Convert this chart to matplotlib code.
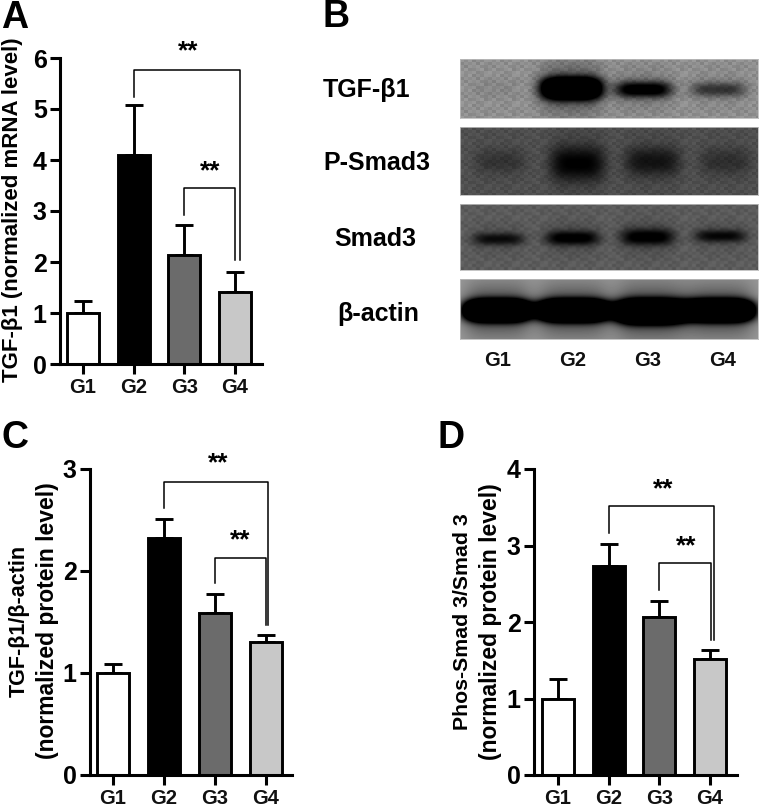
import numpy as np
import matplotlib
matplotlib.use('Agg')
from matplotlib import pyplot as plt

plt.rcParams['font.family'] = ['Liberation Sans', 'DejaVu Sans']

W, H = 761, 807
groups = ['G1', 'G2', 'G3', 'G4']
bar_colours = ['#ffffff', '#000000', '#6b6b6b', '#c8c8c8']

# panel A, C, D values
mrna_means = [1.0, 4.1, 2.13, 1.41]
mrna_errs = [0.24, 0.97, 0.59, 0.40]
tgf_means = [1.0, 2.32, 1.59, 1.30]
tgf_errs = [0.09, 0.19, 0.18, 0.07]
smad_means = [1.0, 2.73, 2.07, 1.51]
smad_errs = [0.25, 0.29, 0.20, 0.12]

# blot bands: lane centre px, half width px, centre y px, half height px, darkness 0-1
tgf_bands = [(495, 24, 88, 9, 0.06), (571, 31, 88, 11, 2.0), (643, 29, 89, 8, 1.0), (718, 28, 89, 7, 0.55)]
psmad_bands = [(500, 26, 161, 12, 0.3), (577, 28, 163, 17, 0.85), (652, 28, 161, 14, 0.65), (725, 26, 161, 13, 0.35)]
smad3_bands = [(498, 26, 239, 6, 0.75), (572, 27, 238, 7, 0.95), (647, 27, 237, 8, 0.95), (720, 26, 236, 6, 0.8)]
actin_bands = [(497, 33, 310, 10, 3.0), (573, 36, 310, 10, 3.0), (650, 35, 311, 11, 3.0), (718, 35, 310, 10, 3.0)]

# mottled film grain, typed by hand and tiled over each strip
grain_a = [[0.6, -0.3, 0.9, -0.8, 0.2, -0.5, 0.7],
           [-0.7, 0.4, -0.2, 0.5, -0.9, 0.8, -0.1],
           [0.3, -0.9, 0.6, 0.1, 0.7, -0.4, -0.6],
           [-0.2, 0.8, -0.6, -0.4, 0.3, 0.9, -0.8],
           [0.9, -0.1, 0.2, 0.7, -0.7, -0.3, 0.4]]
grain_amounts = [0.05, 0.035, 0.04, 0.0]


def px_axes(fig, left, right, top, bottom):
    return fig.add_axes([left / W, 1 - bottom / H, (right - left) / W, (bottom - top) / H])


def px_text(fig, x, y, s, **kw):
    kw.setdefault('ha', 'center')
    kw.setdefault('va', 'center')
    kw.setdefault('fontweight', 'bold')
    fig.text(x / W, 1 - y / H, s, **kw)


def plot_bars(fig, box, centres, ymax, means, errs, outer, inner):
    """Bars with upward error bars and the two significance brackets"""
    left, right, top, bottom = box
    ax = px_axes(fig, left, right, top, bottom)
    step = (centres[3] - centres[0]) / 3.0
    ax.set_xlim((left - centres[0]) / step + 1, (right - centres[0]) / step + 1)
    ax.set_ylim(0, ymax)
    x = np.arange(1, 5)
    ax.bar(x, means, width=0.63, color=bar_colours, edgecolor='k', linewidth=2.1, zorder=2)
    ax.errorbar(x, means, yerr=[[0, 0, 0, 0], errs], fmt='none', ecolor='k',
                elinewidth=2.1, capsize=6.8, capthick=2.1, zorder=1)

    for xs, ys in (outer, inner):
        ax.plot(xs, ys, color='k', linewidth=1.1, clip_on=False, zorder=3)

    for side in ('top', 'right'):
        ax.spines[side].set_visible(False)
    for side in ('left', 'bottom'):
        ax.spines[side].set_linewidth(2.2)
    ax.set_xticks(x)
    ax.set_xticklabels(groups, fontsize=14.5, fontweight='bold', color='#111111')
    ax.set_yticks(range(0, ymax + 1))
    ax.set_yticklabels([str(v) for v in range(0, ymax + 1)], fontsize=18, fontweight='bold')
    ax.tick_params(axis='x', length=7, width=2.2, pad=3)
    ax.tick_params(axis='y', length=7.5, width=2.2, pad=2)
    return ax


def plot_blot(fig, box, background, bands, grain):
    """One grey blot strip, built from its band list"""
    left, right, top, bottom = box
    ax = px_axes(fig, left, right, top, bottom)
    xx, yy = np.meshgrid(np.arange(left, right), np.arange(top, bottom))
    dark = np.zeros(xx.shape)
    for cx, hw, cy, hh, strength in bands:
        across = np.exp(-np.abs((xx - cx) / hw) ** 4)
        down = np.exp(-np.abs((yy - cy) / hh) ** 2.4)
        halo = np.exp(-((yy - cy) / (2.5 * hh)) ** 2)
        dark += strength * across * (down + 0.2 * halo)
    dark = np.clip(dark, 0, 1)
    cell = np.kron(np.array(grain_a), np.ones((3, 4)))
    tiled = np.tile(cell, (6, 12))[:xx.shape[0], :xx.shape[1]]
    img = (background + grain * tiled) * (1 - dark)
    ax.imshow(img, cmap='gray', vmin=0, vmax=1, aspect='auto', interpolation='bicubic')
    ax.set_xticks([])
    ax.set_yticks([])
    for spine in ax.spines.values():
        spine.set_edgecolor('#bbbbbb')
        spine.set_linewidth(0.6)


fig = plt.figure(figsize=(W / 100, H / 100), dpi=100)

# A
plot_bars(fig, (60, 262, 58, 364), (83, 134, 184, 235), 6, mrna_means, mrna_errs,
          ([2, 2, 4.09, 4.09], [5.24, 5.76, 5.76, 2.04]),
          ([3, 3, 4.0, 4.0], [2.92, 3.45, 3.45, 2.04]))
px_text(fig, 15, 18, 'A', fontsize=27)
px_text(fig, 13, 210, 'TGF-β1 (normalized mRNA level)', rotation=90, fontsize=16)
px_text(fig, 188, 51, '**', fontsize=19)
px_text(fig, 210, 171, '**', fontsize=19)

# B
px_text(fig, 336, 17, 'B', fontsize=27)
plot_blot(fig, (460, 758, 59, 118), 0.56, tgf_bands, grain_amounts[0])
plot_blot(fig, (460, 758, 127, 195), 0.31, psmad_bands, grain_amounts[1])
plot_blot(fig, (460, 758, 204, 270), 0.36, smad3_bands, grain_amounts[2])
plot_blot(fig, (460, 758, 279, 339), 0.60, actin_bands, grain_amounts[3])
px_text(fig, 367, 90, 'TGF-β1', fontsize=18)
px_text(fig, 377, 163, 'P-Smad3', fontsize=18)
px_text(fig, 375, 239, 'Smad3', fontsize=18)
px_text(fig, 378, 314, 'β-actin', fontsize=18)
for name, gx in zip(groups, (498, 573, 648, 723)):
    px_text(fig, gx, 360, name, fontsize=14.5, color='#111111')

# C
plot_bars(fig, (90, 292, 469, 775), (113, 164, 215, 266), 3, tgf_means, tgf_errs,
          ([2, 2, 4.04, 4.04], [2.62, 2.87, 2.87, 1.47]),
          ([3, 3, 4.0, 4.0], [1.88, 2.13, 2.13, 1.47]))
px_text(fig, 15, 438, 'C', fontsize=27)
px_text(fig, 19, 621, 'TGF-β1/β-actin', rotation=90, fontsize=15.5)
px_text(fig, 48, 621, '(normalized protein level)', rotation=90, fontsize=16.5)
px_text(fig, 218, 463, '**', fontsize=19)
px_text(fig, 240, 540, '**', fontsize=19)

# D
plot_bars(fig, (534, 737, 469, 775), (558, 609, 660, 710), 4, smad_means, smad_errs,
          ([2, 2, 4.07, 4.07], [3.16, 3.52, 3.52, 1.76]),
          ([3, 3, 4.02, 4.02], [2.42, 2.77, 2.77, 1.76]))
px_text(fig, 451, 438, 'D', fontsize=27)
px_text(fig, 462, 622, 'Phos-Smad 3/Smad 3', rotation=90, fontsize=15.3)
px_text(fig, 490, 622, '(normalized protein level)', rotation=90, fontsize=16.5)
px_text(fig, 663, 489, '**', fontsize=19)
px_text(fig, 686, 546, '**', fontsize=19)

fig.savefig('out.png', dpi=100)
